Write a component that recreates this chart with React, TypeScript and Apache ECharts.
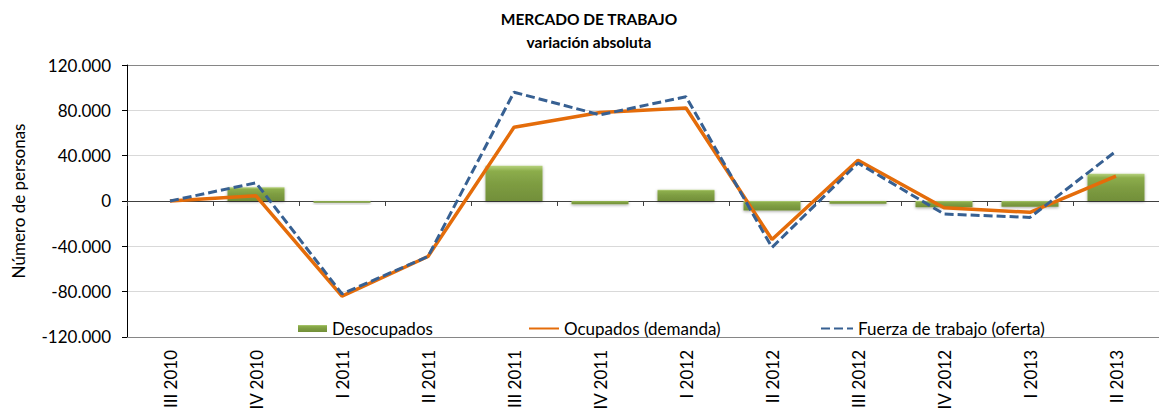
import React, { useEffect, useRef } from "react";
import * as echarts from "echarts";

const categories = [
  "III 2010", "IV 2010", "I 2011", "II 2011", "III 2011", "IV 2011",
  "I 2012", "II 2012", "III 2012", "IV 2012", "I 2013", "II 2013",
];
const desocupados = [0, 12000, -1500, 0, 31000, -3000, 10000, -8500, -2500, -5500, -5000, 24000];
const ocupados = [0, 4500, -84000, -49000, 65000, 78000, 82000, -34000, 36000, -6000, -10000, 22000];
const fuerza = [0, 16000, -82000, -49000, 96000, 76000, 92000, -41000, 33500, -11500, -14500, 44000];

const titleText = "MERCADO DE TRABAJO\nvariación absoluta";
const yName = "Número de personas";
const seriesNames = ["Desocupados", "Ocupados (demanda)", "Fuerza de trabajo (oferta)"];

const FONT = "Lato, 'Open Sans', sans-serif";

function fmt(v: number): string {
  if (v === 0) return "0";
  const s = Math.abs(v).toString().replace(/\B(?=(\d{3})+(?!\d))/g, ".");
  return (v < 0 ? "-" : "") + s;
}

export default function App() {
  const ref = useRef<HTMLDivElement>(null);
  useEffect(() => {
    if (!ref.current) return;
    const chart = echarts.init(ref.current, undefined, { renderer: "svg" });
    const barColor = new echarts.graphic.LinearGradient(0, 0, 0, 1, [
      { offset: 0, color: "#b5d17c" },
      { offset: 0.15, color: "#8cad4b" },
      { offset: 0.5, color: "#7e9d42" },
      { offset: 1, color: "#728f39" },
    ]);
    const legendText = { fontFamily: FONT, fontSize: 17, color: "#000" };
    const hiddenSymbol = { color: "rgba(0,0,0,0)", borderWidth: 0, opacity: 0 };
    chart.setOption({
      animation: false,
      backgroundColor: "#fff",
      textStyle: { fontFamily: FONT },
      title: {
        text: titleText,
        left: 589,
        textAlign: "center",
        top: 7,
        padding: 0,
        textStyle: { fontFamily: FONT, fontSize: 15.5, fontWeight: "bold", color: "#000", lineHeight: 23 },
      },
      grid: { left: 127, right: -9, top: 65, bottom: 68, containLabel: false },
      legend: [
        {
          data: [seriesNames[0]],
          left: 298,
          top: 320,
          padding: 0,
          icon: "rect",
          itemWidth: 29,
          itemHeight: 7,
          textStyle: legendText,
        },
        {
          data: [seriesNames[1]],
          left: 528,
          top: 320,
          padding: 0,
          itemWidth: 30,
          itemHeight: 14,
          textStyle: legendText,
          itemStyle: hiddenSymbol,
        },
        {
          data: [seriesNames[2]],
          left: 820,
          top: 320,
          padding: 0,
          itemWidth: 32,
          itemHeight: 14,
          textStyle: legendText,
          itemStyle: hiddenSymbol,
        },
      ],
      xAxis: [
        {
          type: "category",
          data: categories,
          position: "bottom",
          axisLine: { onZero: false, show: true, lineStyle: { color: "#868686", width: 1 } },
          axisTick: { show: false },
          axisLabel: {
            rotate: 90,
            margin: 13,
            fontFamily: FONT,
            fontSize: 17,
            color: "#000",
            interval: 0,
          },
          splitLine: { show: false },
        },
        {
          type: "category",
          data: categories,
          position: "top",
          axisLine: { onZero: true, onZeroAxisIndex: 0, show: true, lineStyle: { color: "#404040", width: 1 } },
          axisTick: { show: true, inside: true, length: 5, lineStyle: { color: "#404040" } },
          axisLabel: { show: false },
          splitLine: { show: false },
        },
      ],
      yAxis: {
        type: "value",
        min: -120000,
        max: 120000,
        interval: 40000,
        name: yName,
        nameLocation: "middle",
        nameGap: 100,
        nameTextStyle: { fontFamily: FONT, fontSize: 17, color: "#000" },
        axisLine: { show: true, lineStyle: { color: "#000", width: 1 } },
        axisTick: { show: true, length: 5, lineStyle: { color: "#000" } },
        axisLabel: {
          formatter: (v: number) => fmt(v),
          fontFamily: FONT,
          fontSize: 17,
          color: "#000",
          margin: 16,
        },
        splitLine: {
          show: true,
          lineStyle: {
            color: ["#868686", "#d9d9d9", "#d9d9d9", "#404040", "#d9d9d9", "#d9d9d9", "#868686"],
            width: 1,
          },
        },
      },
      series: [
        {
          name: seriesNames[0],
          type: "bar",
          xAxisIndex: 0,
          data: desocupados,
          barWidth: 57,
          itemStyle: {
            color: barColor,
            shadowBlur: 3,
            shadowColor: "rgba(0,0,0,0.35)",
            shadowOffsetY: 1,
          },
        },
        {
          name: seriesNames[1],
          type: "line",
          xAxisIndex: 0,
          data: ocupados,
          symbol: "none",
          lineStyle: { color: "#E46C0A", width: 3.5 },
          itemStyle: { color: "#E46C0A" },
        },
        {
          name: seriesNames[2],
          type: "line",
          xAxisIndex: 0,
          data: fuerza,
          symbol: "none",
          lineStyle: { color: "#376092", width: 3, type: [9, 4] },
          itemStyle: { color: "#376092" },
        },
      ],
    });
    return () => chart.dispose();
  }, []);
  return (
    <div
      ref={ref}
      style={{ position: "fixed", left: 0, top: 0, width: 1159, height: 413 }}
    />
  );
}
